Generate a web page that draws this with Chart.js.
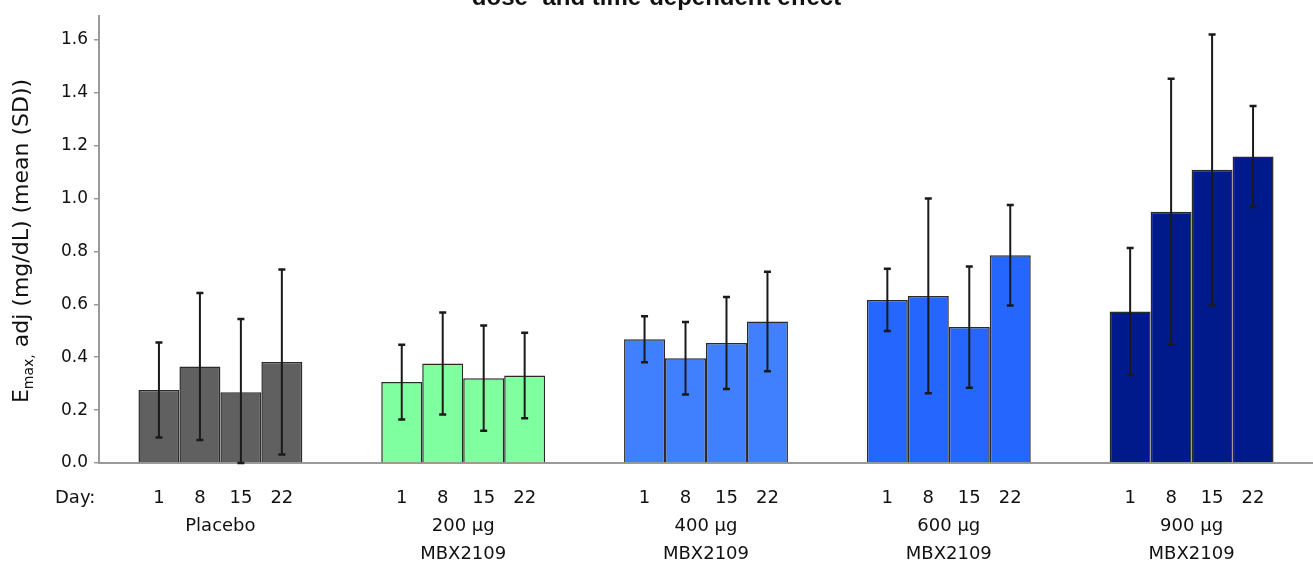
<!DOCTYPE html>
<html>
<head>
<meta charset="utf-8">
<script src="https://cdn.jsdelivr.net/npm/chart.js@4.4.1/dist/chart.umd.min.js"></script>
<style>
html, body { margin: 0; padding: 0; background: #fff; }
#box { width: 1313px; height: 563px; }
</style>
</head>
<body>
<div id="box"><canvas id="chartBox"></canvas></div>
<script>
const groups = [['Placebo'], ['200 µg', 'MBX2109'], ['400 µg', 'MBX2109'], ['600 µg', 'MBX2109'], ['900 µg', 'MBX2109']]
const days = ['1', '8', '15', '22']

// mean per group, one array per day
const day1 = [0.276, 0.306, 0.468, 0.617, 0.573]
const day8 = [0.365, 0.376, 0.396, 0.632, 0.950]
const day15 = [0.268, 0.321, 0.454, 0.514, 1.109]
const day22 = [0.382, 0.331, 0.535, 0.786, 1.159]

// SD per group
const sd1 = [0.180, 0.141, 0.087, 0.118, 0.240]
const sd8 = [0.278, 0.193, 0.137, 0.368, 0.503]
const sd15 = [0.277, 0.199, 0.174, 0.229, 0.512]
const sd22 = [0.350, 0.162, 0.188, 0.190, 0.191]

const yTicks = ['0.0', '0.2', '0.4', '0.6', '0.8', '1.0', '1.2', '1.4', '1.6']
const groupColors = ['#606060', '#80ffa0', '#4080ff', '#2466ff', '#001a8c']

const font = "'DejaVu Sans', sans-serif"
const ink = '#111'

const errorBars = {
    id: 'errorBars',
    afterDatasetsDraw(chart) {
        const ctx = chart.ctx
        const y = chart.scales.y
        ctx.save()
        ctx.strokeStyle = '#1a1a1a'
        chart.data.datasets.forEach((ds, i) => {
            chart.getDatasetMeta(i).data.forEach((bar, j) => {
                const m = ds.data[j]
                const s = ds.sd[j]
                const top = y.getPixelForValue(m + s)
                const bot = y.getPixelForValue(Math.max(0, m - s))
                ctx.lineWidth = 2
                ctx.beginPath()
                ctx.moveTo(bar.x, top)
                ctx.lineTo(bar.x, bot)
                ctx.stroke()
                ctx.lineWidth = 2.5
                ctx.beginPath()
                ctx.moveTo(bar.x - 3.5, top)
                ctx.lineTo(bar.x + 3.5, top)
                ctx.moveTo(bar.x - 3.5, bot)
                ctx.lineTo(bar.x + 3.5, bot)
                ctx.stroke()
            })
        })
        ctx.restore()
    }
}

// day numbers under each bar, plus the "Day:" lead-in
const dayLabels = {
    id: 'dayLabels',
    afterDraw(chart) {
        const ctx = chart.ctx
        const yPos = chart.chartArea.bottom + 35
        ctx.save()
        ctx.font = '18px ' + font
        ctx.fillStyle = ink
        ctx.textBaseline = 'middle'
        ctx.textAlign = 'left'
        ctx.fillText('Day:', 55, yPos)
        ctx.textAlign = 'center'
        chart.data.datasets.forEach((ds, i) => {
            chart.getDatasetMeta(i).data.forEach(bar => {
                ctx.fillText(days[i], bar.x, yPos)
            })
        })
        ctx.restore()
    }
}

// rotated y title with a real subscript
const yTitle = {
    id: 'yTitle',
    afterDraw(chart) {
        const ctx = chart.ctx
        const big = '22px ' + font
        const small = '14px ' + font
        const parts = [['E', big, 0], ['max,', small, 5], [' adj (mg/dL) (mean (SD))', big, 0]]
        ctx.save()
        let total = 0
        parts.forEach(p => { ctx.font = p[1]; total += ctx.measureText(p[0]).width })
        const cy = 241
        ctx.translate(28, cy)
        ctx.rotate(-Math.PI / 2)
        ctx.fillStyle = ink
        ctx.textBaseline = 'alphabetic'
        let x = -total / 2
        parts.forEach(p => {
            ctx.font = p[1]
            ctx.fillText(p[0], x, p[2])
            x += ctx.measureText(p[0]).width
        })
        ctx.restore()
    }
}

const makeSet = (label, data, sd) => ({
    label,
    data,
    sd,
    backgroundColor: groupColors,
    borderColor: '#2a2a2a',
    borderWidth: 1.5,
    borderSkipped: 'bottom',
    categoryPercentage: 0.675,
    barPercentage: 1.0
})

const context = document.querySelector('#chartBox').getContext('2d')
const chart = new Chart(context, {
    type: 'bar',
    data: {
        labels: groups,
        datasets: [
            makeSet('Day 1', day1, sd1),
            makeSet('Day 8', day8, sd8),
            makeSet('Day 15', day15, sd15),
            makeSet('Day 22', day22, sd22)
        ]
    },
    options: {
        responsive: true,
        maintainAspectRatio: false,
        animation: false,
        devicePixelRatio: 1,
        layout: { padding: 0 },
        plugins: {
            legend: { display: false },
            tooltip: { enabled: false },
            title: {
                display: true,
                text: 'dose- and time-dependent effect',
                color: '#111',
                font: { family: "'Liberation Sans', Arial, sans-serif", size: 24, weight: 'bold' },
                padding: { top: -19, bottom: 3 }
            }
        },
        scales: {
            x: {
                grid: { display: false },
                border: { display: true, color: '#9a9a9a', width: 2 },
                ticks: {
                    color: ink,
                    font: { family: font, size: 18, lineHeight: 1.55 },
                    padding: 41,
                    maxRotation: 0
                },
                afterFit: scale => { scale.height = 100 }
            },
            y: {
                min: 0,
                max: 1.69,
                grid: { drawOnChartArea: false, drawTicks: true, tickLength: 5, color: '#9a9a9a', lineWidth: 1.5 },
                border: { display: true, color: '#9a9a9a', width: 2 },
                ticks: {
                    stepSize: 0.2,
                    includeBounds: false,
                    padding: 6,
                    color: ink,
                    font: { family: font, size: 17 },
                    callback: (v, i) => yTicks[i]
                },
                afterFit: scale => { scale.width = 99 }
            }
        }
    },
    plugins: [errorBars, dayLabels, yTitle]
})
</script>
</body>
</html>
